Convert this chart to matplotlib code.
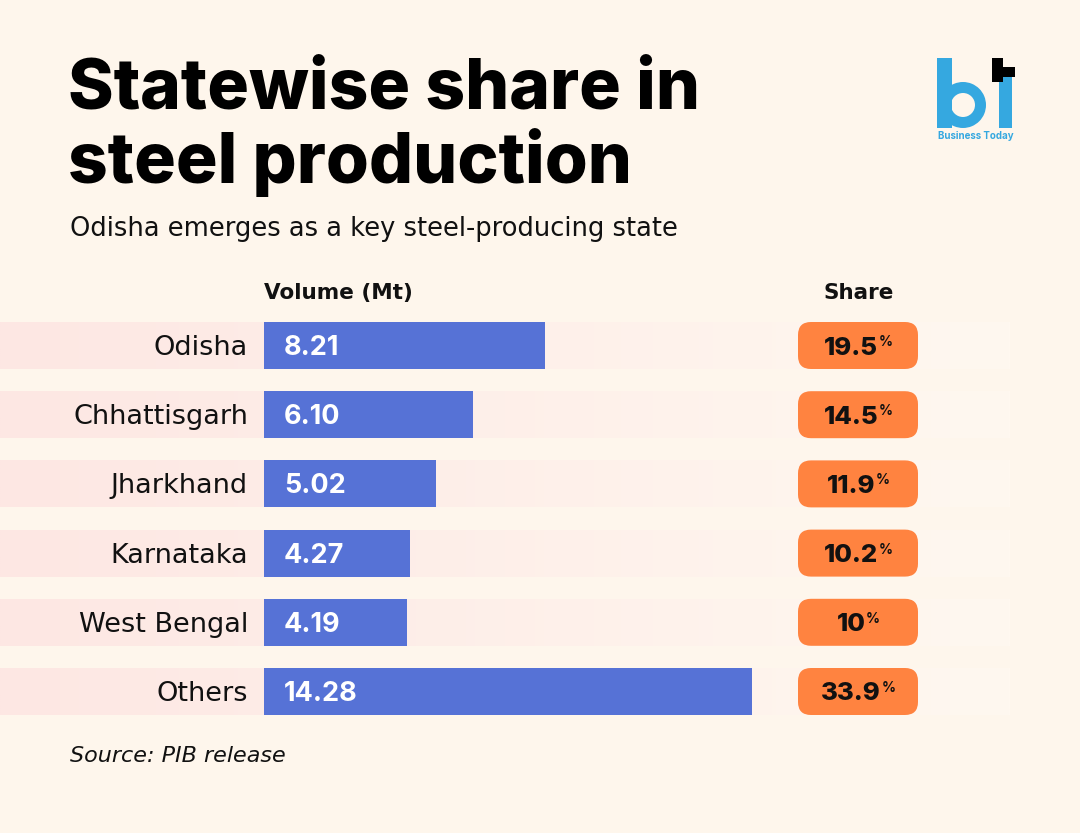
import numpy as np
import matplotlib
matplotlib.use("Agg")
import matplotlib.pyplot as plt
from matplotlib.patches import FancyBboxPatch, Rectangle, Wedge

# ---------------------------------------------------------------------------
# Data
# ---------------------------------------------------------------------------
STATES = ["Odisha", "Chhattisgarh", "Jharkhand", "Karnataka", "West Bengal", "Others"]
VOLUME_MT = [8.21, 6.10, 5.02, 4.27, 4.19, 14.28]
SHARE_LABELS = ["19.5", "14.5", "11.9", "10.2", "10", "33.9"]

SUBTITLE = "Odisha emerges as a key steel-producing state"
SOURCE = "Source: PIB release"

# ---------------------------------------------------------------------------
# Layout (pixels on a 1080x833 canvas)
# ---------------------------------------------------------------------------
W, H = 1080, 833
BG = "#FEF6EC"
BAR_COLOR = "#5672D6"
PILL_COLOR = "#FF8340"
LOGO_BLUE = "#35A8E0"
TITLE_FONT = "Inter"
BODY_FONT = "DejaVu Sans"

BAR_X0 = 264          # px where the value axis starts
PX_PER_MT = 34.2      # px per Mt
ROW0_Y = 345.5        # px centre of first row
ROW_STEP = 69.2       # px between rows
BAR_H_PX = 47

plt.rcParams["font.family"] = [BODY_FONT]

fig = plt.figure(figsize=(W / 100, H / 100), dpi=100)
fig.patch.set_facecolor(BG)

# pixel-space axes for decoration (below)
pax = fig.add_axes([0, 0, 1, 1], zorder=0)
pax.set_xlim(0, W)
pax.set_ylim(H, 0)
pax.axis("off")

n = len(STATES)
row_y = [ROW0_Y + ROW_STEP * i for i in range(n)]

# row background strips with a pink-to-cream gradient
grad = np.linspace(0, 1, 512)
c0 = np.array([253, 231, 227]) / 255
c1 = np.array([255, 248, 240]) / 255
strip = (c0[None, :] * (1 - grad[:, None]) + c1[None, :] * grad[:, None])[None, :, :]
for y in row_y:
    pax.imshow(strip, extent=(0, 1010, y + BAR_H_PX / 2, y - BAR_H_PX / 2),
               aspect="auto", zorder=0, interpolation="bilinear")
pax.set_xlim(0, W)
pax.set_ylim(H, 0)

# bar axes in data units (Mt)
bax = fig.add_axes([0, 0, 1, 1], zorder=1)
bax.set_facecolor("none")
bax.set_xlim(-BAR_X0 / PX_PER_MT, (W - BAR_X0) / PX_PER_MT)
bax.set_ylim((H - ROW0_Y) / ROW_STEP, -ROW0_Y / ROW_STEP)
bax.axis("off")
bax.barh(range(n), VOLUME_MT, height=BAR_H_PX / ROW_STEP, color=BAR_COLOR, zorder=2)

# top pixel-space axes for text
tax = fig.add_axes([0, 0, 1, 1], zorder=2)
tax.set_facecolor("none")
tax.set_xlim(0, W)
tax.set_ylim(H, 0)
tax.axis("off")

for i, (state, vol) in enumerate(zip(STATES, VOLUME_MT)):
    y = row_y[i]
    tax.text(248, y + 9.5, state, ha="right", va="baseline", fontsize=19.5,
             color="#111111")
    tax.text(284, y + 9.5, f"{vol:.2f}", ha="left", va="baseline", fontsize=19.5,
             fontweight="bold", color="white", family=TITLE_FONT)

# share pills
fig.canvas.draw()
renderer = fig.canvas.get_renderer()
PILL_CX, PILL_W = 858, 120
for i, share in enumerate(SHARE_LABELS):
    y = row_y[i]
    pill = FancyBboxPatch((PILL_CX - PILL_W / 2, y - BAR_H_PX / 2), PILL_W, BAR_H_PX,
                          boxstyle="round,pad=0,rounding_size=13",
                          facecolor=PILL_COLOR, edgecolor="none", zorder=3)
    pax.add_patch(pill)
    t = tax.text(0, 0, share, fontsize=18.5, fontweight="heavy", color="#111111",
                 family=TITLE_FONT)
    p = tax.text(0, 0, "%", fontsize=10, fontweight="bold", color="#111111",
                 family=TITLE_FONT)
    wn = t.get_window_extent(renderer).width
    wp = p.get_window_extent(renderer).width
    x0 = PILL_CX - (wn + wp) / 2
    t.set_position((x0, y + 9))
    t.set_va("baseline")
    p.set_position((x0 + wn + 0.5, y + 0.5))
    p.set_va("baseline")

# headers
tax.text(264, 299, "Volume (Mt)", ha="left", va="baseline", fontsize=15.5,
         fontweight="bold", color="#111111")
tax.text(859, 299, "Share", ha="center", va="baseline", fontsize=15.5,
         fontweight="bold", color="#111111")

# titles
tax.text(68, 108, "Statewise share in", ha="left", va="baseline", fontsize=50,
         fontweight="heavy", color="black", family=TITLE_FONT)
tax.text(68, 183, "steel production", ha="left", va="baseline", fontsize=50,
         fontweight="heavy", color="black", family=TITLE_FONT)
tax.text(70, 236, SUBTITLE, ha="left", va="baseline", fontsize=18.5, color="#111111")
tax.text(70, 762, SOURCE, ha="left", va="baseline", fontsize=16, style="italic",
         color="#111111")

# Business Today logo
tax.add_patch(Rectangle((937, 58), 15, 70, facecolor=LOGO_BLUE, edgecolor="none"))
tax.add_patch(Wedge((963, 105), 23, 0, 360, width=11, facecolor=LOGO_BLUE,
                    edgecolor="none"))
tax.add_patch(Rectangle((999, 76), 13, 52, facecolor=LOGO_BLUE, edgecolor="none"))
tax.add_patch(Rectangle((992, 58), 11, 24, facecolor="black", edgecolor="none"))
tax.add_patch(Rectangle((992, 67), 23, 10, facecolor="black", edgecolor="none"))
tax.text(976, 136, "Business Today", ha="center", va="center", fontsize=7,
         fontweight="bold", color=LOGO_BLUE, family=TITLE_FONT)

fig.savefig("out.png", dpi=100, facecolor=BG)
